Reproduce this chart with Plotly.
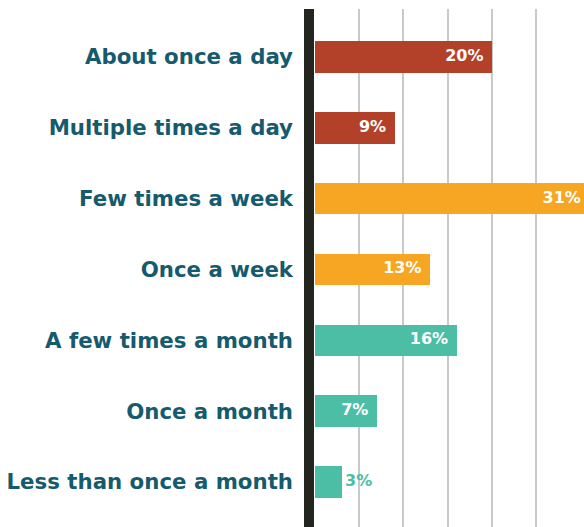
import plotly.graph_objects as go

# Survey: how often respondents do the activity
categories = [
    "About once a day",
    "Multiple times a day",
    "Few times a week",
    "Once a week",
    "A few times a month",
    "Once a month",
    "Less than once a month",
]
percent = [20, 9, 31, 13, 16, 7, 3]

RED = "#b3412a"
ORANGE = "#f6a623"
TEAL = "#4bbea5"
LABEL = "#165a6e"
bar_colors = [RED, RED, ORANGE, ORANGE, TEAL, TEAL, TEAL]

FONT = "DejaVu Sans"

# Small bars carry their label outside, in the bar colour
inside = [v >= 5 for v in percent]
labels = [f"{v}%" for v in percent]
label_pos = ["middle left" if ins else "middle right" for ins in inside]
label_colors = ["white" if ins else c for ins, c in zip(inside, bar_colors)]
# invisible anchor markers set the gap between bar end and label
anchor_size = [12 if ins else 4 for ins in inside]

fig = go.Figure()
fig.add_trace(
    go.Bar(
        x=percent,
        y=categories,
        orientation="h",
        width=0.445,
        marker=dict(color=bar_colors, line=dict(width=0)),
        hoverinfo="skip",
    )
)
# Value labels sit at the bar ends (clipped to the plot area, so a bar
# running past the right edge still shows its label)
fig.add_trace(
    go.Scatter(
        x=percent,
        y=categories,
        mode="markers+text",
        marker=dict(size=anchor_size, opacity=0, color="white"),
        text=labels,
        textposition=label_pos,
        textfont=dict(family=FONT, size=16, color=label_colors, weight="bold"),
        cliponaxis=True,
        hoverinfo="skip",
    )
)

x_min, x_max = -1.24, 30.4
fig.update_xaxes(
    range=[x_min, x_max],
    tickvals=[5, 10, 15, 20, 25],
    showticklabels=False,
    showgrid=True,
    gridcolor="#c9c9c9",
    gridwidth=1.5,
    zeroline=False,
    showline=False,
    fixedrange=True,
)
fig.update_yaxes(
    categoryorder="array",
    categoryarray=categories,
    range=[6.636, -0.678],
    showgrid=False,
    zeroline=False,
    showline=False,
    ticks="",
    ticklabelstandoff=10,
    tickfont=dict(family=FONT, size=21.3, color=LABEL, weight="bold"),
    fixedrange=True,
)

# Heavy dark rule on the left of the bars
fig.add_shape(
    type="rect",
    xref="x",
    yref="paper",
    xsizemode="pixel",
    xanchor=x_min,
    x0=0,
    x1=10,
    y0=0,
    y1=1,
    fillcolor="#22261e",
    line=dict(width=0),
    layer="above",
)

fig.update_layout(
    width=584,
    height=527,
    margin=dict(l=304, r=0, t=9, b=0),
    paper_bgcolor="white",
    plot_bgcolor="white",
    showlegend=False,
    bargap=0,
)

fig.write_html("out.html", config={"displayModeBar": False})
